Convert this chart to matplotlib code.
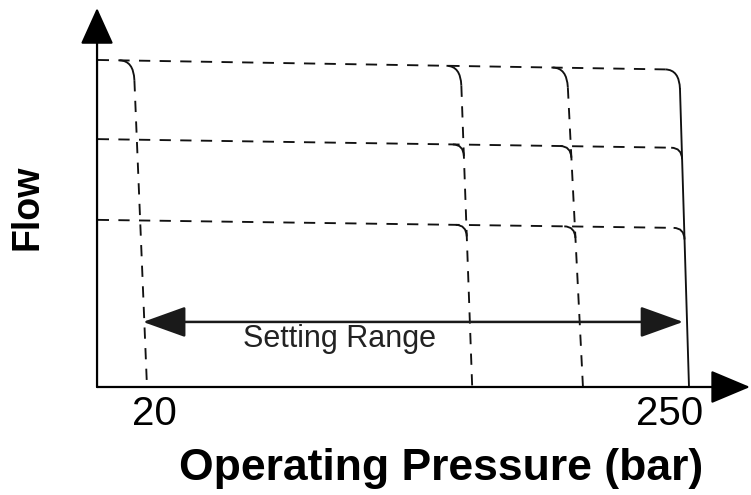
import matplotlib
matplotlib.use("Agg")
import matplotlib.pyplot as plt
from matplotlib.patches import PathPatch, ArrowStyle
from matplotlib.path import Path

plt.rcParams['font.family'] = ['Liberation Sans', 'DejaVu Sans']

# set pressures (bar) where each curve meets zero flow, and where it meets the top flow level
set_pressure = [20, 158, 205, 250]
top_pressure = [14.3, 153, 198, 245.8]
# flow levels at 0 bar and at 250 bar (arbitrary units)
flow_start = [100, 75.8, 51.1]
flow_end = [97, 73.1, 48.6]
tick_labels = ["20", "250"]
tick_pos = [23.2, 241.9]
range_lo, range_hi, range_flow = 18.3, 247.5, 19.9

p_axis = -1.2
col = '#111111'
dash = (0, (6, 5))


def level_flow(i, p):
    return flow_start[i] + (flow_end[i] - flow_start[i]) * p / 250.0


def vert_p(j, q):
    return set_pressure[j] + (top_pressure[j] - set_pressure[j]) * q / flow_start[0]


def crossing(i, j):
    p = set_pressure[j]
    for _ in range(5):
        q = level_flow(i, p)
        p = vert_p(j, q)
    return p, level_flow(i, p)


fig = plt.figure(figsize=(7.51, 4.95), dpi=100)
ax = fig.add_axes([0, 0, 1, 1])
ax.set_xlim(-42.38, 276.31)
ax.set_ylim(-33.03, 118.35)
ax.axis('off')

# axes with arrow heads
ax.annotate("", xy=(275.9, 0), xytext=(p_axis, 0),
            arrowprops=dict(arrowstyle=ArrowStyle("-|>", head_length=25, head_width=10.5),
                            mutation_scale=1, lw=1.6, color='k', shrinkA=0, shrinkB=0))
ax.annotate("", xy=(p_axis, 115.9), xytext=(p_axis, 0),
            arrowprops=dict(arrowstyle=ArrowStyle("-|>", head_length=23, head_width=10.4),
                            mutation_scale=1, lw=1.6, color='k', shrinkA=0, shrinkB=0))

last = len(set_pressure) - 1
for i in range(len(flow_start)):
    rx, ry = (6.0, 6.0) if i == 0 else (4.5, 3.5)
    p_end, _ = crossing(i, last)
    xs = [p_axis + 0.3, p_end - rx]
    ax.plot(xs, [level_flow(i, x) for x in xs], color=col, lw=1.35, ls=dash)

for j in range(len(set_pressure)):
    style = '-' if j == last else dash
    p0, q0 = crossing(0, j)
    qs = [q0 - 6.0, 0]
    ax.plot([vert_p(j, q) for q in qs], qs, color=col, lw=1.35, ls=style)
    for i in range(len(flow_start)):
        if j == 0 and i > 0:
            continue
        rx, ry = (6.0, 6.0) if i == 0 else (4.5, 3.5)
        pc, qc = crossing(i, j)
        verts = [(pc - rx, level_flow(i, pc - rx)), (pc, qc), (vert_p(j, qc - ry), qc - ry)]
        hook = Path(verts, [Path.MOVETO, Path.CURVE3, Path.CURVE3])
        ax.add_patch(PathPatch(hook, fill=False, color=col, lw=1.35))

# setting range arrow
ax.annotate("", xy=(range_hi, range_flow), xytext=(range_lo, range_flow),
            arrowprops=dict(arrowstyle=ArrowStyle("<|-|>", head_length=27, head_width=9.7),
                            mutation_scale=1, lw=1.8, color='#1a1a1a', shrinkA=0, shrinkB=0))
ax.text(101.5, 12.2, "Setting Range", fontsize=22, ha='center', va='baseline', color='#222222')

for lab, pos in zip(tick_labels, tick_pos):
    ax.text(pos, -11.6, lab, fontsize=29, ha='center', va='baseline', color='k')

ax.text(144.8, -28.4, "Operating Pressure (bar)", fontsize=32, fontweight='bold',
        ha='center', va='baseline', color='k')
ax.text(-30.5, 55.0, "Flow", fontsize=27, fontweight='bold', rotation=90,
        ha='center', va='center', color='k')

fig.savefig("out.png", dpi=100)
